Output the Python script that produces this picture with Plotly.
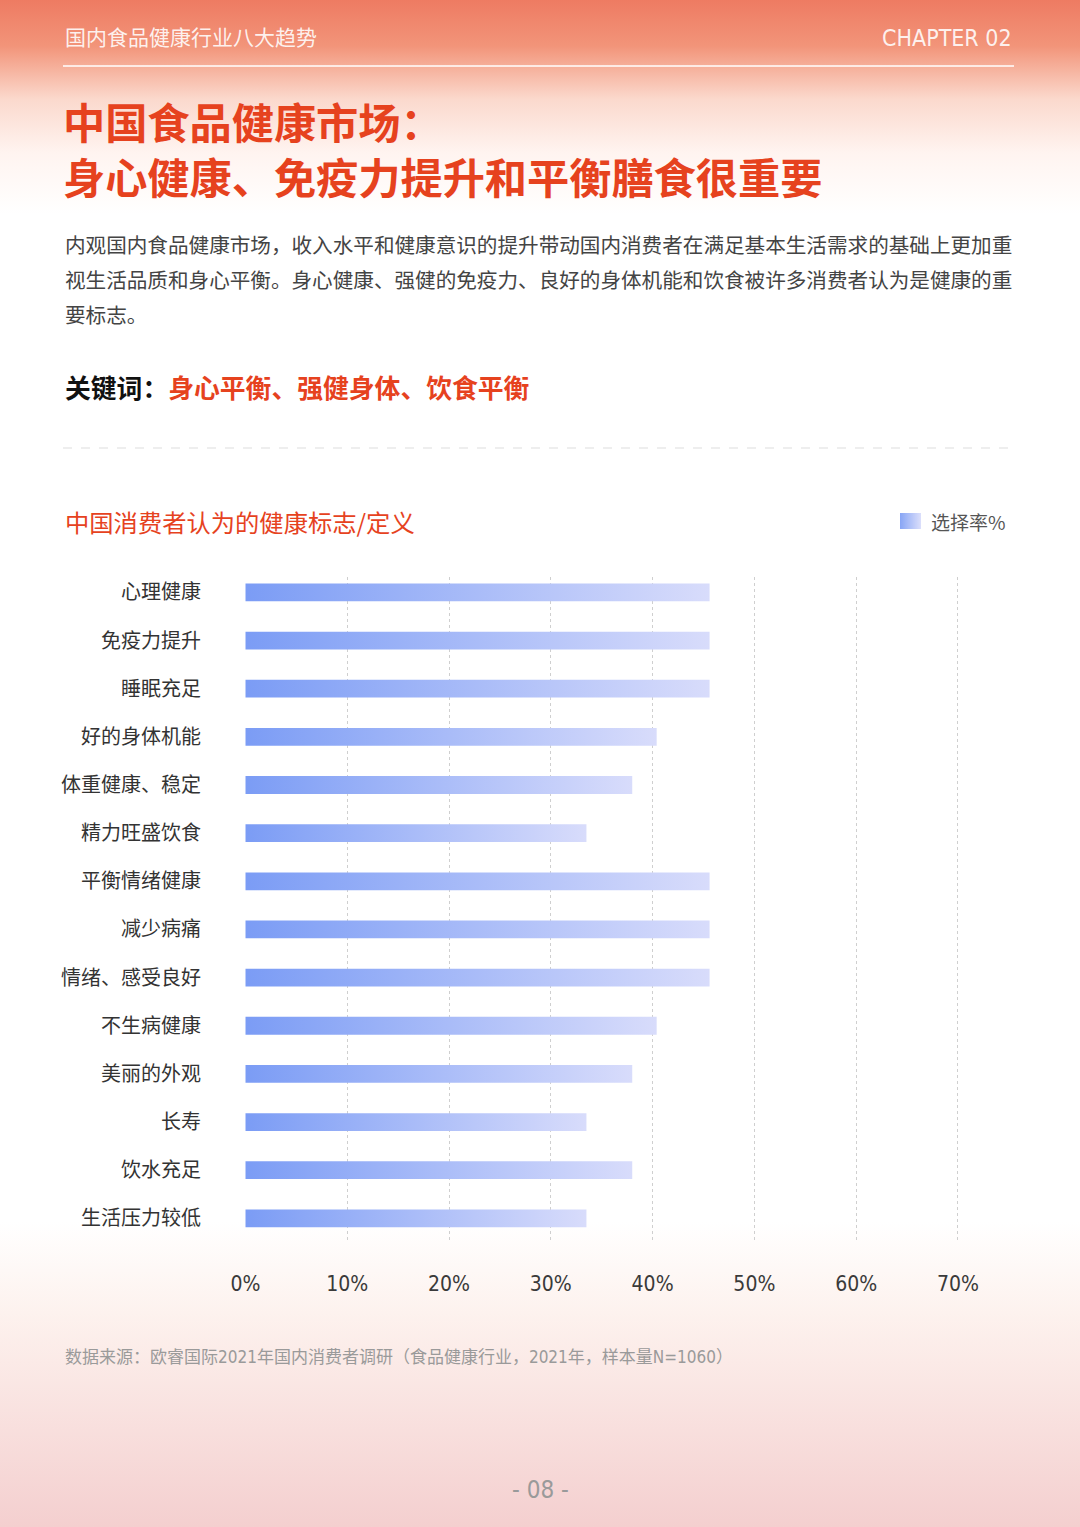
"""China consumer health-definition survey page, rebuilt as a Plotly figure."""

import base64

import plotly.graph_objects as go


# ── Data ──────────────────────────────────────────────────────────────────────

labels = [
    "心理健康", "免疫力提升", "睡眠充足", "好的身体机能", "体重健康、稳定",
    "精力旺盛饮食", "平衡情绪健康", "减少病痛", "情绪、感受良好", "不生病健康",
    "美丽的外观", "长寿", "饮水充足", "生活压力较低",
]
rates = [45.6, 45.6, 45.6, 40.4, 38.0, 33.5, 45.6, 45.6, 45.6, 40.4, 38.0, 33.5, 38.0, 33.5]

x_ticks      = [0, 10, 20, 30, 40, 50, 60, 70]
x_tick_text  = ["0%", "10%", "20%", "30%", "40%", "50%", "60%", "70%"]
series_name  = "选择率%"


# ── Page geometry (pixels) ────────────────────────────────────────────────────

W, H = 1080, 1527
L, R, T, B = 245, 963, 577, 1240

BAR_HALF   = 0.185
BLUE_LEFT  = "#7b9cf5"
BLUE_RIGHT = "#d8dcfb"
RED        = "#e6421e"
CJK        = "Noto Sans CJK SC"
NARROW     = "DejaVu Sans Condensed, Liberation Sans Narrow, Noto Sans CJK SC"


def px_x(x):
    return (x - L) / (R - L)


def px_y(y):
    return (B - y) / (B - T)


def svg_uri(svg: str) -> str:
    return "data:image/svg+xml;base64," + base64.b64encode(svg.encode("utf-8")).decode("ascii")


def page_background() -> str:
    return svg_uri(f"""<svg xmlns='http://www.w3.org/2000/svg' width='{W}' height='{H}' viewBox='0 0 {W} {H}' preserveAspectRatio='none'>
<defs><linearGradient id='g' x1='0' y1='0' x2='0' y2='1'>
<stop offset='0' stop-color='#ee7b62'/>
<stop offset='0.03' stop-color='#f29479'/>
<stop offset='0.065' stop-color='#fbd9cd'/>
<stop offset='0.10' stop-color='#fff4f0'/>
<stop offset='0.14' stop-color='#ffffff'/>
<stop offset='0.80' stop-color='#ffffff'/>
<stop offset='0.86' stop-color='#fdf2ee'/>
<stop offset='1' stop-color='#f4cfcf'/>
</linearGradient></defs>
<rect width='{W}' height='{H}' fill='url(#g)'/>
</svg>""")


def legend_swatch() -> str:
    return svg_uri(f"""<svg xmlns='http://www.w3.org/2000/svg' width='21' height='16' viewBox='0 0 21 16' preserveAspectRatio='none'>
<defs><linearGradient id='s' x1='0' y1='0' x2='1' y2='0'>
<stop offset='0' stop-color='{BLUE_LEFT}'/><stop offset='1' stop-color='{BLUE_RIGHT}'/>
</linearGradient></defs>
<rect width='21' height='16' fill='url(#s)'/>
</svg>""")


# ── Figure ────────────────────────────────────────────────────────────────────

fig = go.Figure()

for i, (name, v) in enumerate(zip(labels, rates)):
    fig.add_trace(go.Scatter(
        x=[0, v, v, 0, 0],
        y=[i - BAR_HALF, i - BAR_HALF, i + BAR_HALF, i + BAR_HALF, i - BAR_HALF],
        mode="none", fill="toself",
        fillcolor=BLUE_LEFT,
        fillgradient=dict(type="horizontal", colorscale=[[0, BLUE_LEFT], [1, BLUE_RIGHT]]),
        name=series_name, showlegend=False,
        hoveron="fills", hoverinfo="text", text=f"{name}: {v}%",
    ))

annotations = [
    dict(text="国内食品健康行业八大趋势", x=px_x(63), y=px_y(38), xanchor="left",
         font=dict(family=NARROW, size=21, color="rgba(255,255,255,0.88)")),
    dict(text="CHAPTER 02", x=px_x(1014), y=px_y(38), xanchor="right",
         font=dict(family=NARROW, size=23, color="rgba(255,255,255,0.88)")),
    dict(text="<b>中国食品健康市场：</b><br><b>身心健康、免疫力提升和平衡膳食很重要</b>",
         x=px_x(61), y=px_y(148), xanchor="left", align="left",
         font=dict(family=CJK, size=42.2, color=RED)),
    dict(text="内观国内食品健康市场，收入水平和健康意识的提升带动国内消费者在满足基本生活需求的基础上更加重",
         x=px_x(63), y=px_y(244), xanchor="left", font=dict(family=CJK, size=20.6, color="#444")),
    dict(text="视生活品质和身心平衡。身心健康、强健的免疫力、良好的身体机能和饮食被许多消费者认为是健康的重",
         x=px_x(63), y=px_y(279), xanchor="left", font=dict(family=CJK, size=20.6, color="#444")),
    dict(text="要标志。", x=px_x(63), y=px_y(314), xanchor="left",
         font=dict(family=CJK, size=20.6, color="#444")),
    dict(text=f"<b>关键词：</b><b><span style='color:{RED}'>身心平衡、强健身体、饮食平衡</span></b>",
         x=px_x(63), y=px_y(387), xanchor="left", font=dict(family=CJK, size=25.8, color="#111")),
    dict(text="中国消费者认为的健康标志/定义", x=px_x(63), y=px_y(521), xanchor="left",
         font=dict(family=CJK, size=24.3, color=RED)),
    dict(text=series_name, x=px_x(929), y=px_y(521), xanchor="left",
         font=dict(family=CJK, size=19, color="#555")),
    dict(text="数据来源：欧睿国际2021年国内消费者调研（食品健康行业，2021年，样本量N=1060）",
         x=px_x(63), y=px_y(1357), xanchor="left", font=dict(family=NARROW, size=17, color="#9a9a9a")),
    dict(text="- 08 -", x=px_x(540), y=px_y(1490), xanchor="center",
         font=dict(family=NARROW, size=24, color="#9a9a9a")),
]
for a in annotations:
    a.update(xref="paper", yref="paper", yanchor="middle", showarrow=False)

shapes = [
    dict(type="line", xref="paper", yref="paper", x0=px_x(63), x1=px_x(1014), y0=px_y(66), y1=px_y(66),
         line=dict(color="rgba(255,255,255,0.75)", width=2)),
    dict(type="line", xref="paper", yref="paper", x0=px_x(63), x1=px_x(1014), y0=px_y(448), y1=px_y(448),
         line=dict(color="#dddddd", width=1.2, dash="dash")),
]

images = [
    dict(source=page_background(), xref="paper", yref="paper",
         x=px_x(0), y=px_y(0), sizex=W / (R - L), sizey=H / (B - T),
         xanchor="left", yanchor="top", sizing="stretch", layer="below"),
    dict(source=legend_swatch(), xref="paper", yref="paper",
         x=px_x(900), y=px_y(513), sizex=21 / (R - L), sizey=16 / (B - T),
         xanchor="left", yanchor="top", sizing="stretch", layer="above", opacity=0.9),
]

fig.update_layout(
    width=W, height=H,
    margin=dict(l=L, r=W - R, t=T, b=H - B, autoexpand=False),
    paper_bgcolor="white", plot_bgcolor="rgba(0,0,0,0)",
    font=dict(family=CJK, color="#333"),
    showlegend=False,
    annotations=annotations,
    shapes=shapes,
    images=images,
    xaxis=dict(range=[-0.05, 70.5], tickvals=x_ticks, ticktext=x_tick_text,
               showgrid=True, gridcolor="#cfcfcf", griddash="3px,3px", gridwidth=1,
               zeroline=False, showline=False, ticks="outside", ticklen=0,
               ticklabelstandoff=25, tickfont=dict(family=NARROW, size=21, color="#3a3a3a"),
               fixedrange=True),
    yaxis=dict(range=[13.45, -0.32], tickvals=list(range(len(labels))), ticktext=labels,
               showgrid=False, zeroline=False, showline=False, ticks="outside", ticklen=0,
               ticklabelstandoff=39, tickfont=dict(family=CJK, size=20, color="#333"),
               fixedrange=True),
)

fig.write_html("out.html", config={"displayModeBar": False},
               post_script="document.body.style.margin='0';")
